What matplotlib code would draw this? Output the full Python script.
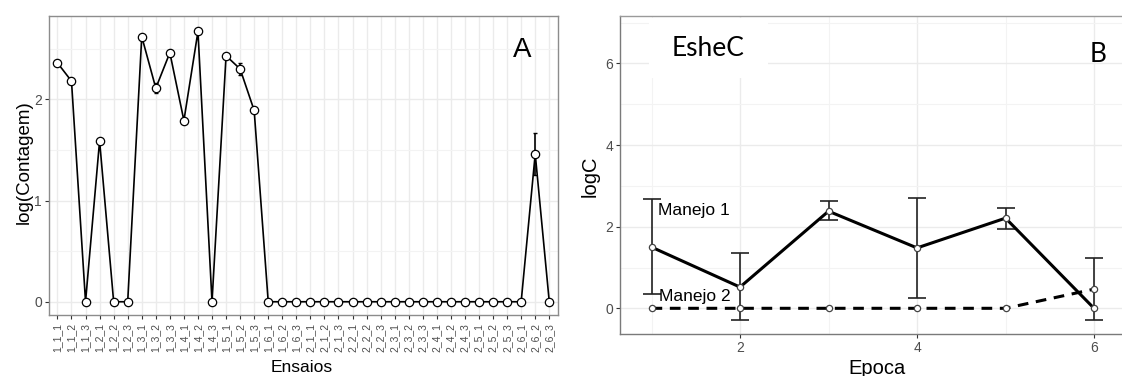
import matplotlib.pyplot as plt
from matplotlib.patches import Rectangle
from matplotlib.ticker import MultipleLocator

plt.rcParams['font.family'] = ['Liberation Sans', 'DejaVu Sans']

# painel A
ensaios = ["1_1_1", "1_1_2", "1_1_3", "1_2_1", "1_2_2", "1_2_3", "1_3_1", "1_3_2", "1_3_3",
           "1_4_1", "1_4_2", "1_4_3", "1_5_1", "1_5_2", "1_5_3", "1_6_1", "1_6_2", "1_6_3",
           "2_1_1", "2_1_2", "2_1_3", "2_2_1", "2_2_2", "2_2_3", "2_3_1", "2_3_2", "2_3_3",
           "2_4_1", "2_4_2", "2_4_3", "2_5_1", "2_5_2", "2_5_3", "2_6_1", "2_6_2", "2_6_3"]
log_contagem = [2.36, 2.18, 0, 1.59, 0, 0, 2.62, 2.11, 2.46, 1.79, 2.67, 0, 2.43, 2.30, 1.89,
                0, 0, 0, 0, 0, 0, 0, 0, 0, 0, 0, 0, 0, 0, 0, 0, 0, 0, 0, 1.46, 0]
erro_contagem = [0, 0.03, 0, 0, 0, 0, 0, 0.05, 0, 0, 0, 0, 0, 0.06, 0,
                 0, 0, 0, 0, 0, 0, 0, 0, 0, 0, 0, 0, 0, 0, 0, 0, 0, 0, 0, 0.21, 0]

# painel B
epoca = [1, 2, 3, 4, 5, 6]
manejo1 = [1.50, 0.52, 2.38, 1.48, 2.21, 0.0]
manejo1_lo = [0.34, -0.29, 2.16, 0.26, 1.94, 0.0]
manejo1_hi = [2.67, 1.36, 2.63, 2.70, 2.46, 0.0]
manejo2 = [0, 0, 0, 0, 0, 0.47]
manejo2_lo = [0, 0, 0, 0, 0, -0.28]
manejo2_hi = [0, 0, 0, 0, 0, 1.23]

W, H = 1122, 376
fig = plt.figure(figsize=(W / 100, H / 100), dpi=100)

grid_c = '#ebebeb'
tick_c = '#4d4d4d'

# ---------------- A ----------------
axA = fig.add_axes([49 / W, (H - 315) / H, 508.7 / W, 299 / H])
x = list(range(len(ensaios)))
axA.errorbar(x, log_contagem, yerr=erro_contagem, color='black', lw=1.2,
             elinewidth=1.2, capsize=1.5, zorder=3)
axA.plot(x, log_contagem, 'o', ms=6, mfc='white', mec='black', mew=0.9, zorder=4)
axA.set_xlim(-0.6, 35.6)
axA.set_ylim(-0.131, 2.823)
axA.set_xticks(x)
axA.set_xticklabels(ensaios, rotation=90, fontsize=7.5, color=tick_c)
axA.set_yticks([0, 1, 2])
axA.yaxis.set_minor_locator(MultipleLocator(0.5))
axA.tick_params(axis='y', which='minor', length=0)
axA.tick_params(axis='both', which='major', length=3, width=0.8, color='#333333',
                labelsize=10, labelcolor=tick_c, pad=2)
axA.tick_params(axis='x', which='major', labelsize=7.5, pad=3)
axA.grid(True, which='major', color=grid_c, lw=1.0)
axA.grid(True, which='minor', axis='y', color='#f3f3f3', lw=0.8)
axA.set_axisbelow(True)
for s in axA.spines.values():
    s.set_color('#8c8c8c')
    s.set_linewidth(1.0)
axA.set_xlabel('Ensaios', fontsize=12.5)
axA.xaxis.label.set_va('center')
axA.xaxis.set_label_coords(0.497, -0.174)
axA.set_ylabel('log(Contagem)', fontsize=13.5)
axA.yaxis.label.set_va('center')
axA.yaxis.set_label_coords(-0.049, 0.51)
axA.text(0.93, 0.886, 'A', transform=axA.transAxes, fontsize=20,
         ha='center', va='center')

# ---------------- B ----------------
axB = fig.add_axes([620 / W, (H - 334.3) / H, (W - 620) / W + 0.01, 318.3 / H])
axB.plot(epoca, manejo1, color='black', lw=2.2, zorder=3)
axB.plot(epoca, manejo2, color='black', lw=2.2, ls=(0, (3.5, 2.5)), zorder=3)
for lo_list, hi_list in [(manejo1_lo, manejo1_hi), (manejo2_lo, manejo2_hi)]:
    for xi, lo, hi in zip(epoca, lo_list, hi_list):
        if hi > lo:
            half = (hi - lo) / 2
            axB.errorbar([xi], [lo + half], yerr=[[half], [half]],
                         fmt='none', ecolor='#222222', elinewidth=1.2, capsize=6.5,
                         capthick=1.2, zorder=2)
axB.plot(epoca, manejo1, 'o', ms=4.5, mfc='white', mec='#444444', mew=0.9, zorder=4)
axB.plot(epoca, manejo2, 'o', ms=4.5, mfc='white', mec='#444444', mew=0.9, zorder=4)
axB.set_xlim(0.644, 6.316 + 0.01 * W / 88.5)
axB.set_ylim(-0.637, 7.164)
axB.set_xticks([2, 4, 6])
axB.set_yticks([0, 2, 4, 6])
axB.xaxis.set_minor_locator(MultipleLocator(1))
axB.yaxis.set_minor_locator(MultipleLocator(1))
axB.tick_params(which='minor', length=0)
axB.tick_params(axis='both', which='major', length=3, width=0.8, color='#333333',
                labelsize=10, labelcolor=tick_c, pad=2)
axB.grid(True, which='major', color=grid_c, lw=1.0)
axB.grid(True, which='minor', color='#f3f3f3', lw=0.8)
axB.set_axisbelow(True)
axB.spines['right'].set_visible(False)
axB.spines['top'].set_color('#9a9a9a')
axB.spines['left'].set_color('#7a7a7a')
axB.spines['bottom'].set_color('#7a7a7a')
for s in axB.spines.values():
    s.set_linewidth(1.0)
axB.set_xlabel('Epoca', fontsize=14.5)
axB.xaxis.label.set_va('center')
axB.xaxis.set_label_coords(0.5, -0.106)
axB.set_ylabel('logC', fontsize=14.5)
axB.yaxis.label.set_va('center')
axB.yaxis.set_label_coords(-0.058, 0.497)

axB.text(1.07, 2.29, 'Manejo 1', fontsize=12.5, va='baseline', ha='left', zorder=5)
axB.text(1.085, 0.186, 'Manejo 2', fontsize=12.5, va='baseline', ha='left', zorder=5)

# caixa branca atras do titulo
axB.add_patch(Rectangle((28 / 502, (334.3 - 77.7) / 318.3), 117 / 502, 60 / 318.3,
                        transform=axB.transAxes, facecolor='white', edgecolor='none',
                        zorder=1))
axB.text(86 / 502, (334.3 - 49) / 318.3, 'EsheC', transform=axB.transAxes,
         fontsize=19, family=['Lato', 'DejaVu Sans'], ha='center', va='center', zorder=5)
axB.text(468 / 502, (334.3 - 54) / 318.3, 'B', transform=axB.transAxes,
         fontsize=19, family=['Lato', 'DejaVu Sans'], ha='center', va='center', zorder=5)

fig.savefig('out.png', dpi=100)
